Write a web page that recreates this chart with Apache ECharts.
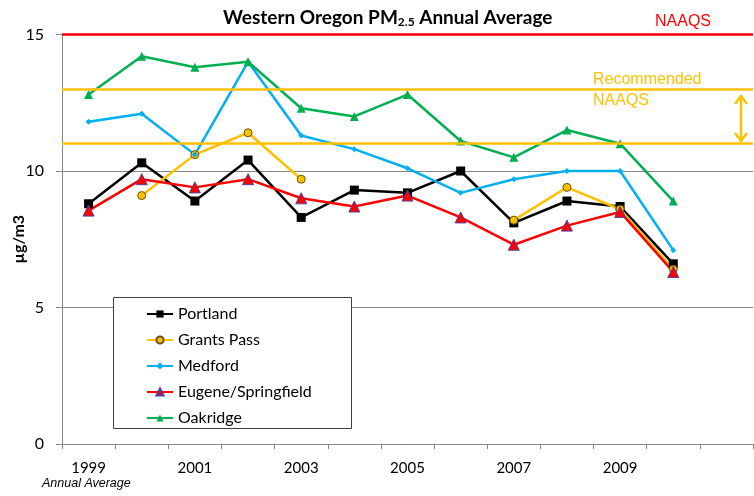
<!DOCTYPE html>
<html>
<head>
<meta charset="utf-8">
<script src="https://cdn.jsdelivr.net/npm/echarts@6/dist/echarts.min.js"></script>
<style>
  html, body { margin: 0; padding: 0; background: #fff; }
  #chart { width: 754px; height: 496px; }
</style>
</head>
<body>
<div id="chart"></div>
<script>
// categories (last slot is empty, like the original sheet)
const years = ['1999', '2000', '2001', '2002', '2003', '2004', '2005', '2006', '2007', '2008', '2009', '2010', '']

// annual averages, ug/m3
const portland = [8.8, 10.3, 8.9, 10.4, 8.3, 9.3, 9.2, 10.0, 8.1, 8.9, 8.7, 6.6]
const grantsPass = [null, 9.1, 10.6, 11.4, 9.7, null, null, null, 8.2, 9.4, 8.6, 6.4]
const medford = [11.8, 12.1, 10.6, 14.0, 11.3, 10.8, 10.1, 9.2, 9.7, 10.0, 10.0, 7.1]
const eugene = [8.55, 9.7, 9.4, 9.7, 9.0, 8.7, 9.1, 8.3, 7.3, 8.0, 8.5, 6.3]
const oakridge = [12.8, 14.2, 13.8, 14.0, 12.3, 12.0, 12.8, 11.1, 10.5, 11.5, 11.0, 8.9]

// standards
const naaqs = 15
const recommended = [13, 11]

const yTicks = [0, 5, 10, 15]

const FONT = 'Lato, "Noto Sans", sans-serif'
const ARIAL = '"Liberation Sans", Arial, sans-serif'

const myChart = echarts.init(document.getElementById('chart'))

const lineSeries = (name, data, color, symbol, size, itemStyle) => ({
	name: name,
	type: 'line',
	data: data,
	symbol: symbol,
	symbolSize: size,
	connectNulls: false,
	lineStyle: { color: color, width: 2.5 },
	itemStyle: Object.assign({ color: color }, itemStyle),
	emphasis: { disabled: true },
	animation: false
})

const series = [
	lineSeries('Portland', portland, '#000000', 'rect', 9, {}),
	lineSeries('Grants Pass', grantsPass, '#FFC000', 'circle', 8, { borderColor: '#6b5200', borderWidth: 1 }),
	lineSeries('Medford', medford, '#00B0F0', 'diamond', 6, {}),
	lineSeries('Eugene/Springfield', eugene, '#FF0000', 'triangle', 11, { borderColor: '#5040A0', borderWidth: 1 }),
	lineSeries('Oakridge', oakridge, '#00B050', 'triangle', 9, {})
]

// standard lines
series[0].markLine = {
	silent: true,
	symbol: 'none',
	label: { show: false },
	animation: false,
	data: [
		{ yAxis: naaqs, lineStyle: { color: '#FF0000', width: 2.5, type: 'solid' } },
		{ yAxis: recommended[0], lineStyle: { color: '#FFC000', width: 2.5, type: 'solid' } },
		{ yAxis: recommended[1], lineStyle: { color: '#FFC000', width: 2.5, type: 'solid' } }
	]
}

const option = {
	animation: false,
	textStyle: { fontFamily: FONT },
	title: {
		left: 218,
		top: 2,
		text: '{a|Western Oregon PM}{s|2.5}{a| Annual Average}',
		textStyle: {
			rich: {
				a: { fontFamily: FONT, fontWeight: 'bold', fontSize: 19, color: '#000' },
				s: { fontFamily: FONT, fontWeight: 'bold', fontSize: 12, color: '#000', padding: [9, 0, 0, 0] }
			}
		}
	},
	grid: { left: 62, right: 1, top: 34.5, bottom: 52, containLabel: false, outerBoundsMode: 'none' },
	legend: {
		orient: 'vertical',
		left: 113,
		top: 297,
		padding: [9, 10, 5, 33],
		itemGap: 10,
		itemWidth: 26,
		itemHeight: 9,
		selectedMode: false,
		textStyle: { fontFamily: FONT, fontSize: 16, color: '#000' },
		data: ['Portland', 'Grants Pass', 'Medford', 'Eugene/Springfield', 'Oakridge']
	},
	xAxis: {
		type: 'category',
		data: years,
		boundaryGap: true,
		axisLine: { lineStyle: { color: '#868686', width: 1 } },
		axisTick: { show: true, interval: 0, length: 5, lineStyle: { color: '#868686' } },
		axisLabel: { interval: 1, margin: 17, fontFamily: FONT, fontSize: 15, color: '#000' },
		splitLine: { show: false }
	},
	yAxis: {
		type: 'value',
		min: yTicks[0],
		max: yTicks[yTicks.length - 1],
		interval: 5,
		name: 'µg/m3',
		nameLocation: 'middle',
		nameGap: 35,
		nameMoveOverlap: false,
		nameTextStyle: { fontFamily: FONT, fontWeight: 'bold', fontSize: 16, color: '#000' },
		axisLine: { show: true, lineStyle: { color: '#868686', width: 1 } },
		axisTick: { show: true, length: 6, lineStyle: { color: '#868686' } },
		axisLabel: { margin: 18, fontFamily: FONT, fontSize: 16, color: '#000' },
		splitLine: { show: true, lineStyle: { color: '#868686', width: 1 } }
	},
	graphic: [
		{
			type: 'rect',
			z: 1,
			shape: { x: 113.5, y: 297.5, width: 238, height: 131 },
			style: { fill: '#fff', stroke: '#404040', lineWidth: 1 }
		},
		{
			type: 'text',
			left: 655,
			top: 14,
			style: { text: 'NAAQS', fill: '#FF0000', font: '16px ' + ARIAL }
		},
		{
			type: 'text',
			left: 593,
			top: 69,
			style: { text: 'Recommended\nNAAQS', fill: '#FFC000', font: '16px ' + ARIAL, lineHeight: 21 }
		},
		{
			type: 'group',
			children: [
				{ type: 'line', shape: { x1: 741, y1: 96, x2: 741, y2: 141 }, style: { stroke: '#FFC000', lineWidth: 2.5 } },
				{ type: 'polyline', shape: { points: [[735, 104], [741, 96], [747, 104]] }, style: { stroke: '#FFC000', lineWidth: 2.5, fill: null } },
				{ type: 'polyline', shape: { points: [[735, 133], [741, 141], [747, 133]] }, style: { stroke: '#FFC000', lineWidth: 2.5, fill: null } }
			]
		},
		{
			type: 'text',
			left: 42,
			top: 477,
			style: { text: 'Annual Average', fill: '#000', font: 'italic 12.5px "Liberation Sans Narrow", ' + ARIAL }
		}
	],
	series: series
}

myChart.setOption(option)
</script>
</body>
</html>
